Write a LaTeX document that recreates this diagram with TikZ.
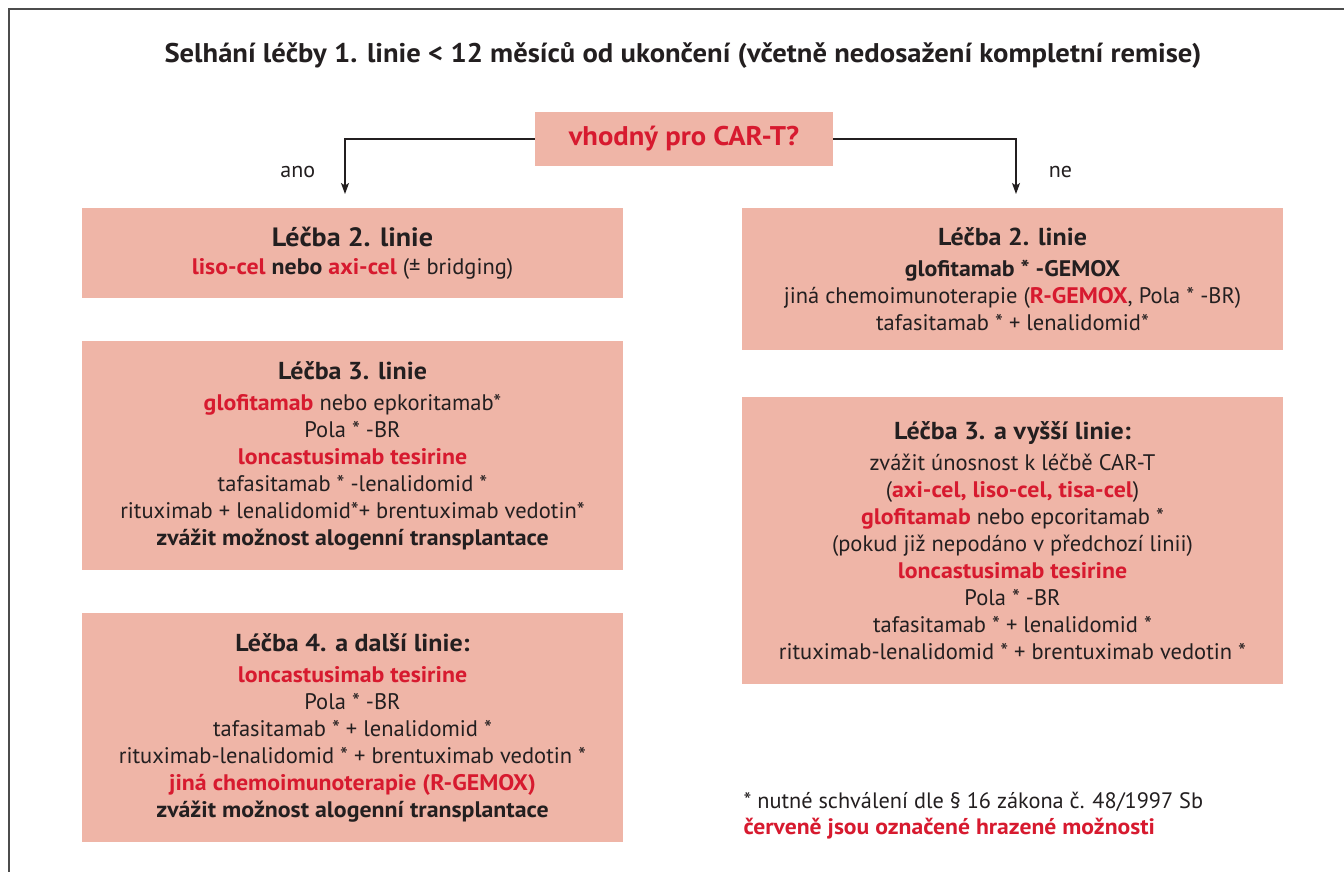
\documentclass[tikz,border=0pt]{standalone}
\usepackage{fontspec}
\setmainfont{PT Sans}[BoldFeatures={FakeStretch=1.06}]
\usepackage{tikz}
\usetikzlibrary{%
  arrows,%
  arrows.meta,%
  calc,%
  positioning%
}
\tikzset{>={Stealth[length=11pt,width=8pt,inset=2.5pt]}}
\definecolor{boxfill}{HTML}{EFB5A7}
\definecolor{hrazeno}{HTML}{D71A2F}
\definecolor{ink}{HTML}{231F20}
\newcommand{\hraz}[1]{{\bfseries\color{hrazeno}#1}}
\newcommand{\nadpis}[1]{{\fontsize{24.5}{29}\selectfont\bfseries #1}}
\tikzset{
  linie/.style={fill=boxfill,text=ink,inner sep=0pt,minimum width=541,
    align=center,font=\fontsize{22.5}{27}\selectfont},
  sipka/.style={->,draw=ink,line width=1.1}
}

\begin{document}
\begin{tikzpicture}[x=1pt,y=-1pt]
    \useasboundingbox (0,0) rectangle (1344,872);
    \fill[white] (0,0) rectangle (1344,872);
    \draw[black!70,line width=1.4] (9,872) -- (9,9) -- (1344,9);

    \node[text=ink,font=\fontsize{27}{30}\selectfont\bfseries] (titul) at (683,55)
    {Selhání léčby 1. linie < 12 měsíců od ukončení (včetně nedosažení kompletní remise)};

    \node[fill=boxfill,text=hrazeno,inner sep=0pt,minimum width=298,minimum height=54,
      font=\fontsize{27}{30}\selectfont\bfseries] (vhodny) at (684,139) {vhodný pro CAR-T?};

    \node[linie,minimum height=90] (ano2) at (352.5,253)
    {{\fontsize{26.5}{30}\selectfont\bfseries Léčba 2. linie}\\[1pt]
      \hraz{liso-cel} \textbf{nebo} \hraz{axi-cel} (± bridging)};

    \node[linie,minimum height=229] (ano3) at (352.5,455.5)
    {\nadpis{Léčba 3. linie}\\[4pt]
      \hraz{glofitamab} nebo epkoritamab*\\
      Pola * -BR\\
      \hraz{loncastusimab tesirine}\\
      tafasitamab * -lenalidomid *\\
      rituximab + lenalidomid*+ brentuximab vedotin*\\
      \textbf{zvážit možnost alogenní transplantace}};

    \node[linie,minimum height=229] (ano4) at (352.5,727.5)
    {\nadpis{Léčba 4. a další linie:}\\[4pt]
      \hraz{loncastusimab tesirine}\\
      Pola * -BR\\
      tafasitamab * + lenalidomid *\\
      rituximab-lenalidomid * + brentuximab vedotin *\\
      \hraz{jiná chemoimunoterapie (R-GEMOX)}\\
      \textbf{zvážit možnost alogenní transplantace}};

    \node[linie,minimum height=142] (ne2) at (1012.5,279)
    {\nadpis{Léčba 2. linie}\\[4pt]
      \textbf{glofitamab * -GEMOX}\\
      jiná chemoimunoterapie (\hraz{R-GEMOX}, Pola * -BR)\\
      tafasitamab * + lenalidomid*};

    \node[linie,minimum height=287] (ne3) at (1012.5,540.5)
    {\nadpis{Léčba 3. a vyšší linie:}\\[4pt]
      zvážit únosnost k léčbě CAR-T\\
      (\hraz{axi-cel, liso-cel, tisa-cel})\\
      \hraz{glofitamab} nebo epcoritamab *\\
      (pokud již nepodáno v předchozí linii)\\
      \hraz{loncastusimab tesirine}\\
      Pola * -BR\\
      tafasitamab * + lenalidomid *\\
      rituximab-lenalidomid * + brentuximab vedotin *};

    \node[anchor=west,align=left,text=ink,font=\fontsize{22.3}{26}\selectfont] (pozn) at (740,816)
    {* nutné schválení dle § 16 zákona č. 48/1997 Sb\\
      \hraz{červeně jsou označené hrazené možnosti}};

    \coordinate (anoCil) at (345,194);
    \coordinate (neCil) at (1016,194);
    \draw[sipka] (vhodny.west) -| (anoCil)
    node[pos=0.8,left=26pt,text=ink,font=\fontsize{22}{26}\selectfont] {ano};
    \draw[sipka] (vhodny.east) -| (neCil)
    node[pos=0.8,right=29pt,text=ink,font=\fontsize{22}{26}\selectfont] {ne};
\end{tikzpicture}
\end{document}
